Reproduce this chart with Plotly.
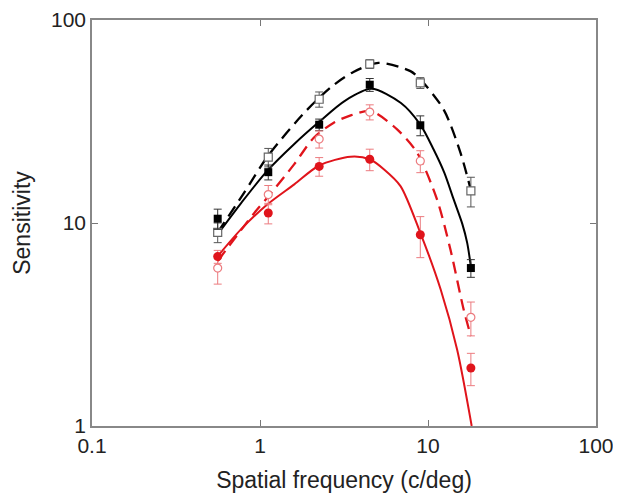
import plotly.graph_objects as go

# ---- measured data (spatial frequency in c/deg) ----
freq = [0.56, 1.12, 2.25, 4.5, 9.0, 18.0]

open_sq = [9.0, 21.1, 40.7, 60.7, 49.0, 14.4]
open_sq_err = [1.0, 2.2, 3.5, 3.0, 3.0, 2.4]

filled_sq = [10.5, 17.8, 30.5, 48.0, 30.3, 6.0]
filled_sq_err = [1.2, 1.5, 2.0, 3.5, 3.4, 0.6]

open_ci = [6.0, 13.8, 25.9, 35.2, 20.2, 3.43]
open_ci_err = [1.0, 1.5, 2.5, 3.0, 2.5, 0.65]

filled_ci = [6.83, 11.2, 19.0, 20.6, 8.75, 1.93]
filled_ci_err = [0.5, 1.3, 2.0, 2.5, 2.0, 0.35]

# ---- fitted curves ----
fit_black_dash_x = [0.56, 0.8, 1.12, 1.87, 2.69, 3.6, 5.07, 7.86, 9.0, 12.4, 15.6, 18.0]
fit_black_dash_y = [9.0, 14.0, 21.5, 35.5, 47.2, 55.5, 61.5, 56.0, 51.0, 36.2, 22.2, 14.5]

fit_black_solid_x = [0.56, 0.77, 1.1, 1.6, 2.25, 3.2, 4.6, 6.9, 9.0, 10.8, 12.5, 14.2, 16.0, 17.1, 18.0]
fit_black_solid_y = [8.8, 12.5, 18.0, 24.5, 31.5, 40.0, 45.8, 39.0, 30.5, 23.0, 17.7, 13.1, 9.9, 8.0, 6.1]

fit_red_dash_x = [0.56, 0.94, 1.12, 1.6, 2.09, 2.75, 3.5, 4.56, 6.55, 8.61, 11.3, 13.6, 16.3, 18.0]
fit_red_dash_y = [6.5, 11.4, 13.5, 19.5, 26.3, 31.2, 34.0, 35.6, 28.9, 22.2, 13.1, 7.4, 3.75, 2.77]

fit_red_solid_x = [0.56, 0.77, 1.1, 1.6, 2.25, 3.46, 4.5, 5.5, 6.86, 9.0, 11.9, 14.9, 18.2]
fit_red_solid_y = [6.86, 9.3, 12.3, 15.5, 19.2, 21.2, 20.6, 18.3, 15.2, 8.95, 4.7, 2.38, 1.0]

x_ticks = [0.1, 1, 10, 100]
x_ticktext = ["0.1", "1", "10", "100"]
y_ticks = [1, 10, 100]
y_ticktext = ["1", "10", "100"]

BLACK = "#000000"
RED = "#e0141b"
PINK = "#ec7b7f"

fig = go.Figure()

# curves
fig.add_trace(go.Scatter(x=fit_black_dash_x, y=fit_black_dash_y, mode="lines",
                         line=dict(color=BLACK, width=2.3, dash="12px,7px", shape="spline", smoothing=0.8),
                         hoverinfo="skip"))
fig.add_trace(go.Scatter(x=fit_black_solid_x, y=fit_black_solid_y, mode="lines",
                         line=dict(color=BLACK, width=2, shape="spline", smoothing=0.8),
                         hoverinfo="skip"))
fig.add_trace(go.Scatter(x=fit_red_dash_x, y=fit_red_dash_y, mode="lines",
                         line=dict(color=RED, width=2.3, dash="12px,7px", shape="spline", smoothing=0.8),
                         hoverinfo="skip"))
fig.add_trace(go.Scatter(x=fit_red_solid_x, y=fit_red_solid_y, mode="lines",
                         line=dict(color=RED, width=2, shape="spline", smoothing=0.8),
                         hoverinfo="skip"))

# data points
fig.add_trace(go.Scatter(x=freq, y=open_sq, mode="markers",
                         error_y=dict(type="data", array=open_sq_err, color="#555555", thickness=1, width=4),
                         marker=dict(symbol="square", size=8, color="white", line=dict(color="#666666", width=1.2))))
fig.add_trace(go.Scatter(x=freq, y=filled_sq, mode="markers",
                         error_y=dict(type="data", array=filled_sq_err, color="#333333", thickness=1, width=4),
                         marker=dict(symbol="square", size=8, color=BLACK, line=dict(width=0))))
fig.add_trace(go.Scatter(x=freq, y=open_ci, mode="markers",
                         error_y=dict(type="data", array=open_ci_err, color=PINK, thickness=1, width=4),
                         marker=dict(symbol="circle", size=8, color="white", line=dict(color=PINK, width=1.2))))
fig.add_trace(go.Scatter(x=freq, y=filled_ci, mode="markers",
                         error_y=dict(type="data", array=filled_ci_err, color=PINK, thickness=1, width=4),
                         marker=dict(symbol="circle", size=9, color=RED, line=dict(width=0))))

font_family = "Liberation Sans, Arial, Helvetica, sans-serif"

fig.update_layout(
    width=621, height=503,
    margin=dict(l=84, r=33, t=12, b=85, autoexpand=False),
    paper_bgcolor="white", plot_bgcolor="white",
    showlegend=False,
    font=dict(family=font_family, size=21, color="#222222"),
    xaxis=dict(type="log", range=[-1, 2], tickvals=x_ticks, ticktext=x_ticktext,
               ticks="inside", ticklen=6, tickcolor="#777777", tickwidth=1.3,
               showline=True, linecolor="#888888", linewidth=1.5, mirror="ticks",
               showgrid=False, zeroline=False, automargin=False,
               title=dict(text="Spatial frequency (c/deg)", font=dict(size=23), standoff=16),
               tickfont=dict(size=21)),
    yaxis=dict(type="log", range=[0, 2], tickvals=y_ticks, ticktext=y_ticktext,
               ticks="inside", ticklen=6, tickcolor="#777777", tickwidth=1.3,
               showline=True, linecolor="#888888", linewidth=1.5, mirror="ticks",
               showgrid=False, zeroline=False, automargin=False,
               title=dict(text="Sensitivity", font=dict(size=23), standoff=14),
               tickfont=dict(size=21)),
)

fig.write_html("out.html")
